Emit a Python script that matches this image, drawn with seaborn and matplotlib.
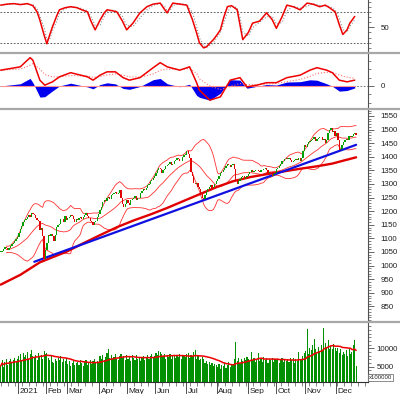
import numpy as np
import pandas as pd
import matplotlib
matplotlib.use("Agg")
import matplotlib.pyplot as plt
import seaborn as sns
from matplotlib.ticker import MultipleLocator, FixedLocator, NullFormatter

sns.set_theme(style="white")
plt.rcParams['font.family'] = ['Liberation Sans', 'DejaVu Sans']

# trading days per month on the chart (Dec 2020 .. Dec 2021)
month_labels = ["", "2021", "Feb", "Mar", "Apr", "May", "Jun", "Jul", "Aug", "Sep", "Oct", "Nov", "Dec"]
month_days = [13, 20, 15, 23, 20, 20, 22, 22, 22, 20, 21, 22, 15]

# daily closes
close_dec20 = [1050, 1055, 1062, 1067, 1064, 1058, 1066, 1072, 1078, 1084, 1090, 1098, 1104]
close_jan = [1120, 1133, 1145, 1160, 1167, 1172, 1180, 1185, 1180, 1194, 1190, 1186, 1175, 1168, 1165,
             1131, 1140, 1110, 1023, 1056]
close_feb = [1083, 1113, 1110, 1117, 1110, 1090, 1114, 1142, 1150, 1153, 1170, 1173, 1160, 1182, 1168]
close_mar = [1175, 1180, 1185, 1182, 1172, 1160, 1170, 1168, 1175, 1180, 1172, 1177, 1186, 1192, 1181,
             1176, 1165, 1160, 1150, 1162, 1165, 1178, 1191]
close_apr = [1205, 1215, 1232, 1240, 1238, 1248, 1252, 1246, 1258, 1262, 1268, 1272, 1262, 1268, 1278,
             1250, 1225, 1215, 1228, 1240]
close_may = [1231, 1222, 1240, 1245, 1249, 1255, 1240, 1247, 1250, 1268, 1275, 1280, 1278, 1285, 1295,
             1300, 1310, 1316, 1321, 1328]
close_jun = [1340, 1350, 1360, 1355, 1342, 1350, 1355, 1365, 1370, 1375, 1380, 1370, 1375, 1385, 1390,
             1395, 1392, 1385, 1383, 1400, 1407, 1408]
close_jul = [1420, 1410, 1395, 1345, 1330, 1305, 1299, 1302, 1290, 1280, 1262, 1250, 1243, 1260, 1272,
             1280, 1290, 1298, 1284, 1290, 1300, 1310]
close_aug = [1320, 1330, 1340, 1345, 1350, 1358, 1365, 1373, 1368, 1362, 1370, 1375, 1355, 1314, 1300,
             1310, 1318, 1325, 1330, 1320, 1325, 1331]
close_sep = [1338, 1345, 1350, 1343, 1348, 1352, 1350, 1347, 1345, 1350, 1352, 1355, 1358, 1350, 1342,
             1345, 1335, 1330, 1336, 1342]
close_oct = [1356, 1360, 1367, 1375, 1383, 1385, 1391, 1395, 1392, 1396, 1390, 1380, 1385, 1390, 1392,
             1388, 1394, 1385, 1396, 1420, 1444]
close_nov = [1437, 1448, 1455, 1457, 1462, 1467, 1472, 1457, 1465, 1470, 1473, 1471, 1462, 1465, 1452,
             1460, 1487, 1500, 1506, 1490, 1495, 1478]
close_dec = [1486, 1462, 1425, 1430, 1443, 1455, 1462, 1466, 1463, 1475, 1473, 1477, 1482, 1488, 1480]

# daily volume (x100000)
vol_dec20 = [5200, 6800, 4800, 6200, 7000, 5500, 6600, 7200, 6000, 6900, 7400, 6300, 7100]
vol_jan = [7800, 8500, 6900, 8800, 7600, 8300, 9000, 7200, 8600, 9500, 7900, 7400, 8100, 6800, 8700,
           7600, 8200, 7000, 9300, 8400]
vol_feb = [8800, 7500, 6900, 7800, 6400, 6000, 7200, 6600, 7400, 6800, 7900, 6300, 7000, 6500, 7300]
vol_mar = [5700, 6500, 5300, 6100, 6600, 5400, 5900, 6300, 5500, 6800, 6000, 5200, 6400, 6700, 5600,
           6200, 6900, 5800, 6500, 7100, 5900, 6600, 6300]
vol_apr = [7900, 7200, 8300, 6900, 7600, 8800, 9900, 7400, 8100, 7000, 7700, 8400, 7100, 6800, 7900,
           8500, 7300, 7800, 6900, 8200]
vol_may = [7000, 7900, 6600, 8100, 7400, 6900, 8300, 7200, 7700, 6500, 7600, 8000, 6800, 7500, 8200,
           7100, 7800, 8600, 7300, 8000]
vol_jun = [8800, 8100, 9200, 9000, 8600, 7900, 8400, 7200, 8100, 7600, 8500, 7000, 7800, 8300, 7300,
           8000, 7600, 8400, 7100, 7900, 8200, 7700]
vol_jul = [8600, 8800, 7400, 8300, 7800, 9000, 9500, 7200, 8000, 6700, 7000, 7600, 7100, 6100, 6500,
           5700, 6300, 5600, 6000, 5200, 5800, 5400]
vol_aug = [4900, 5700, 4500, 5400, 5100, 6000, 4700, 5600, 6200, 5000, 5800, 5500, 7100, 11700, 6600,
           7400, 6100, 7000, 6500, 7300, 6800, 7600]
vol_sep = [7100, 6500, 9000, 6800, 7400, 6200, 7000, 8700, 6600, 7200, 6400, 7700, 6900, 7300, 6100,
           7000, 6700, 7500, 6300, 7100]
vol_oct = [6800, 7200, 6000, 6900, 7500, 6300, 7100, 6600, 7000, 6200, 7300, 6700, 7400, 6100, 7000,
           6500, 9000, 7200, 6800, 7900, 8800]
vol_nov = [9200, 15300, 8500, 10200, 9600, 11000, 12600, 9800, 8700, 10500, 9400, 10800, 9200, 15500, 11500,
           10100, 12300, 9900, 10600, 9700, 11200, 10000]
vol_dec = [9300, 10200, 8700, 9800, 8200, 9100, 8600, 9500, 8000, 9900, 8400, 9000, 10900, 12300, 5300]

# long moving average and trend line
ma_long_day = [0, 14, 28, 47, 59, 71, 83, 95, 107, 119, 130, 142, 155, 166, 178, 190, 202, 214, 226, 237, 245, 254]
ma_long_val = [930, 966, 1012, 1051, 1082, 1112, 1141, 1166, 1188, 1212, 1236, 1262, 1290, 1310, 1325, 1336,
               1346, 1356, 1365, 1375, 1386, 1398]
trend_day = [24, 254]
trend_val = [1014, 1444]

# stochastic %K
stoch_day = [0, 4.5, 9.5, 14, 19, 23, 26, 28, 31, 33, 35, 37, 40, 42, 46, 50, 54.5, 58, 62, 64.5, 67.5,
             71, 74, 76, 80, 83, 87, 90, 94.5, 99.5, 104.5, 109, 114, 117, 119, 121, 123, 128, 133, 137,
             140, 142, 145, 147, 152, 154.5, 157, 159.5, 162, 165, 169, 171, 173, 177, 180, 185, 190, 194,
             197, 201, 204.5, 209, 214, 219, 223, 228, 232, 235, 239, 242, 244.5, 247.5, 249.5, 253]
stoch_k = [93, 95, 96, 94, 96, 92, 80, 64, 35, 18, 35, 51, 72, 84, 88, 90, 88, 84, 80, 62, 45,
           64, 78, 84, 82, 80, 62, 45, 58, 78, 90, 95, 97, 85, 78, 88, 97, 95, 93, 65,
           39, 20, 10, 12, 26, 35, 45, 70, 90, 92, 84, 55, 26, 40, 58, 62, 78, 65,
           48, 70, 93, 90, 84, 97, 95, 90, 93, 88, 80, 55, 36, 45, 58, 71]

# MACD line
macd_day = [0, 14, 21, 23, 28, 31.5, 37, 42, 50, 62, 66, 71, 76, 82, 87.5, 92, 99.5, 109, 114, 119, 128,
            135, 140, 142, 149.5, 157, 164, 171, 176, 183, 190, 197, 204.5, 214, 221, 226, 233, 237, 242,
            247.5, 253]
macd_val = [19, 23, 34, 31, 7, 1, 5, 11, 16, 11, 7, 13, 17, 17, 10, 7, 10, 22, 28, 23, 19,
            23, 4, -5, -17, -13, 7, 10, -1, 1, 4, 4, 10, 13, 19, 22, 19, 16, 7,
            5, 7]

closes = (close_dec20 + close_jan + close_feb + close_mar + close_apr + close_may + close_jun + close_jul
          + close_aug + close_sep + close_oct + close_nov + close_dec)
volumes = (vol_dec20 + vol_jan + vol_feb + vol_mar + vol_apr + vol_may + vol_jun + vol_jul
           + vol_aug + vol_sep + vol_oct + vol_nov + vol_dec)

df = pd.DataFrame({"close": closes, "vol": volumes})
df["day"] = np.arange(len(df))
df["open"] = df["close"].shift(1).fillna(df["close"].iloc[0])
df["low"] = df[["open", "close"]].min(axis=1)

# bollinger bands and volume average
df["mid"] = df["close"].rolling(20, min_periods=5).mean()
sd = df["close"].rolling(20, min_periods=5).std(ddof=0)
df["upper"] = df["mid"] + 2 * sd
df["lower"] = df["mid"] - 2 * sd
df["vol_ma"] = df["vol"].rolling(20, min_periods=1).mean()

st = pd.DataFrame({"day": stoch_day, "k": stoch_k})
st["d"] = st["k"].rolling(2, min_periods=1).mean()
md = pd.DataFrame({"day": macd_day, "macd": macd_val})
md["signal"] = md["macd"].ewm(span=5, adjust=False).mean()
md["hist"] = md["macd"] - md["signal"]

# layout in pixels
W, H = 400, 394
fig = plt.figure(figsize=(4.0, 3.94), dpi=100)
fig.patch.set_facecolor("white")


def panel(top, bottom):
    ax = fig.add_axes([0, 1 - bottom / H, 368 / W, (bottom - top) / H])
    ax.set_facecolor("white")
    for s in ["left", "top", "bottom"]:
        ax.spines[s].set_visible(False)
    ax.spines["right"].set_color("#505050")
    ax.spines["right"].set_linewidth(0.8)
    ax.yaxis.tick_right()
    ax.tick_params(axis="y", which="major", length=4, width=0.6, color="#505050",
                   labelsize=5.7, pad=5, labelcolor="#202020")
    ax.tick_params(axis="y", which="minor", length=2, width=0.5, color="#505050", right=True)
    ax.set_xlim(-0.5, 262.5)
    ax.set_xticks([])
    return ax


ax_st = panel(0, 52)
ax_md = panel(54, 107)
ax_pr = panel(110, 320)
ax_vo = panel(323, 382)

# separators between panels
for yp in [53, 108.5, 321.5]:
    fig.add_artist(plt.Line2D([0, 1], [1 - yp / H] * 2, color="#a8a8a8", lw=1.6))

# stochastic
ax_st.axhline(80, color="#404040", lw=0.6, ls=(0, (2, 2)))
ax_st.axhline(20, color="#404040", lw=0.6, ls=(0, (2, 2)))
sns.lineplot(data=st, x="day", y="d", ax=ax_st, color="#909090", lw=0.8, linestyle=":")
sns.lineplot(data=st, x="day", y="k", ax=ax_st, color="#ee0000", lw=1.1)
ax_st.set_ylim(2, 103)
ax_st.yaxis.set_major_locator(FixedLocator([50]))
ax_st.yaxis.set_minor_locator(MultipleLocator(10))

# MACD
ax_md.axhline(0, color="#606060", lw=0.6, ls=(0, (2, 2)))
ax_md.fill_between(md["day"], md["hist"], 0, color="#0000ee", lw=0)
sns.lineplot(x=[md["day"].min(), md["day"].max()], y=[0, 0], ax=ax_md, color="#ff9090", lw=0.8)
sns.lineplot(data=md, x="day", y="signal", ax=ax_md, color="#ff7070", lw=0.8, linestyle=":")
sns.lineplot(data=md, x="day", y="macd", ax=ax_md, color="#ee0000", lw=1.1)
ax_md.set_ylim(-25.2, 38.4)
ax_md.yaxis.set_major_locator(FixedLocator([0]))
ax_md.yaxis.set_minor_locator(MultipleLocator(10))

# price panel
for col in ["upper", "mid", "lower"]:
    sns.lineplot(data=df, x="day", y=col, ax=ax_pr, color="#ff3030", lw=0.6)
sns.lineplot(x=ma_long_day, y=ma_long_val, ax=ax_pr, color="#e00000", lw=1.7)
sns.lineplot(x=trend_day, y=trend_val, ax=ax_pr, color="#1010e0", lw=1.6)
up = df["close"] >= df["open"]
body_h = (df["close"] - df["open"]).abs().clip(lower=2)
ax_pr.bar(df["day"], body_h, bottom=df["low"], width=0.9,
          color=np.where(up, "#00a000", "#e00000"), linewidth=0, zorder=3)
ax_pr.set_ylim(800, 1572)
ax_pr.set_yticks(np.arange(850, 1551, 50))
ax_pr.yaxis.set_minor_locator(MultipleLocator(10))

# volume panel
ax_vo.bar(df["day"], df["vol"], width=0.8, color="#009000", linewidth=0)
sns.lineplot(data=df, x="day", y="vol_ma", ax=ax_vo, color="#ee0000", lw=1.1)
ax_vo.set_ylim(850, 16900)
ax_vo.set_yticks([5000, 10000])
ax_vo.yaxis.set_minor_locator(MultipleLocator(1000))
ax_vo.tick_params(axis="y", which="major", pad=2)
ax_vo.text(1.003, 0.04, "x100000", transform=ax_vo.transAxes, fontsize=4.3, ha="left", va="bottom",
           color="#202020", bbox=dict(boxstyle="square,pad=0.15", fc="white", ec="#606060", lw=0.5))

for ax in [ax_st, ax_md, ax_pr, ax_vo]:
    ax.set_xlabel("")
    ax.set_ylabel("")

# x axis with month separators
ax_vo.spines["bottom"].set_visible(True)
ax_vo.spines["bottom"].set_color("#303030")
ax_vo.spines["bottom"].set_linewidth(0.8)
starts = np.cumsum([0] + month_days[:-1])
ax_vo.set_xticks(starts[1:] - 0.5)
ax_vo.set_xticklabels([])
ax_vo.xaxis.set_minor_locator(MultipleLocator(5))
ax_vo.tick_params(axis="x", which="major", bottom=True, length=9, width=0.7, color="#505050")
ax_vo.tick_params(axis="x", which="minor", bottom=True, length=3, width=0.5, color="#505050")
ax_vo.xaxis.set_minor_formatter(NullFormatter())
for s, lab in zip(starts[1:], month_labels[1:]):
    ax_vo.text(s + 0.6, -0.1, lab, transform=ax_vo.get_xaxis_transform(), fontsize=6,
               ha="left", va="top", color="#202020")

fig.savefig("out.png", dpi=100, facecolor="white")
